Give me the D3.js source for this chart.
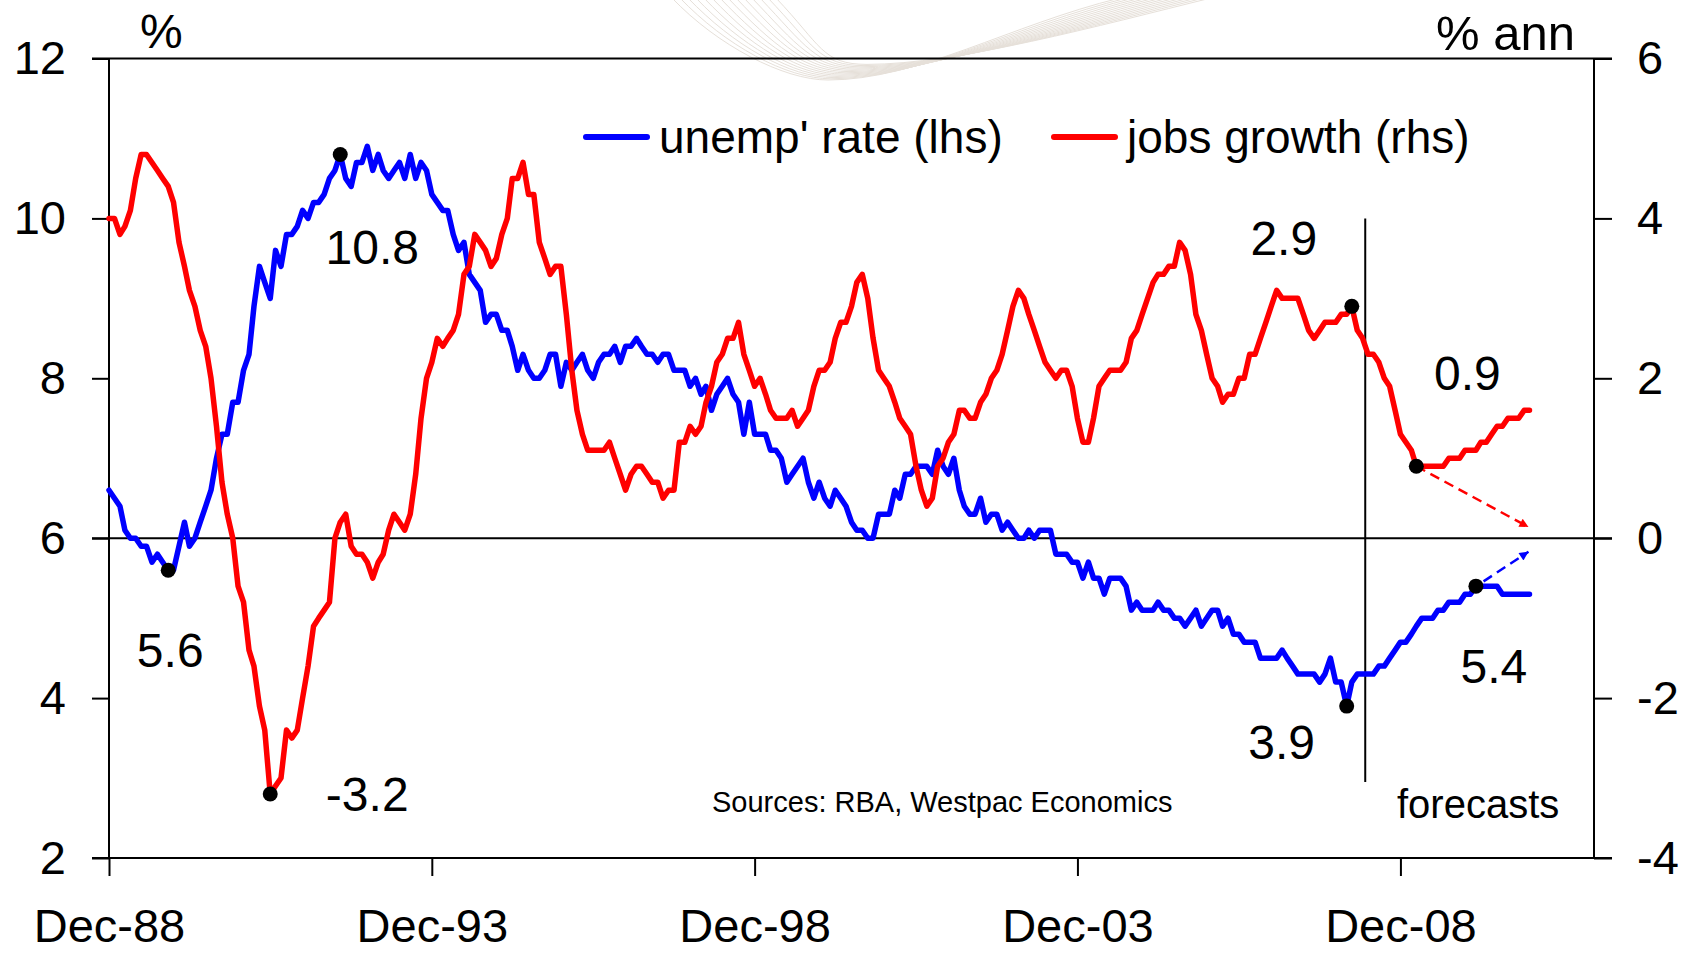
<!DOCTYPE html>
<html>
<head>
<meta charset="utf-8">
<script src="https://cdn.jsdelivr.net/npm/d3@7"></script>
<style>
  html, body { margin: 0; padding: 0; background: #fff; }
  svg { display: block; font-family: "Liberation Sans", Arial, sans-serif; }
</style>
</head>
<body>
<svg id="chart" width="1692" height="956"></svg>
<script>
// Monthly series, first value is Dec-88, one value per month through Dec-10
const startMonth = new Date(1988, 11, 1);

// Unemployment rate, % (left axis)
const unempRate = [
  6.6,
  6.5, 6.4, 6.1, 6.0, 6.0, 5.9, 5.9, 5.7, 5.8, 5.7, 5.6, 5.6,          // 1989
  5.9, 6.2, 5.9, 6.0, 6.2, 6.4, 6.6, 7.0, 7.3, 7.3, 7.7, 7.7,          // 1990
  8.1, 8.3, 8.9, 9.4, 9.2, 9.0, 9.6, 9.4, 9.8, 9.8, 9.9, 10.1,         // 1991
  10.0, 10.2, 10.2, 10.3, 10.5, 10.6, 10.8, 10.5, 10.4, 10.7, 10.7, 10.9, // 1992
  10.6, 10.8, 10.6, 10.5, 10.6, 10.7, 10.5, 10.8, 10.5, 10.7, 10.6, 10.3, // 1993
  10.2, 10.1, 10.1, 9.8, 9.6, 9.7, 9.3, 9.2, 9.1, 8.7, 8.8, 8.8,       // 1994
  8.6, 8.6, 8.4, 8.1, 8.3, 8.1, 8.0, 8.0, 8.1, 8.3, 8.3, 7.9,          // 1995
  8.2, 8.1, 8.2, 8.3, 8.1, 8.0, 8.2, 8.3, 8.3, 8.4, 8.2, 8.4,          // 1996
  8.4, 8.5, 8.4, 8.3, 8.3, 8.2, 8.3, 8.3, 8.1, 8.1, 8.1, 7.9,          // 1997
  8.0, 7.8, 7.9, 7.6, 7.8, 7.9, 8.0, 7.8, 7.7, 7.3, 7.7, 7.3,          // 1998
  7.3, 7.3, 7.1, 7.1, 7.0, 6.7, 6.8, 6.9, 7.0, 6.7, 6.5, 6.7,          // 1999
  6.5, 6.4, 6.6, 6.5, 6.4, 6.2, 6.1, 6.1, 6.0, 6.0, 6.3, 6.3,          // 2000
  6.3, 6.6, 6.5, 6.8, 6.8, 6.9, 6.9, 6.9, 6.8, 7.1, 6.9, 6.8,          // 2001
  7.0, 6.6, 6.4, 6.3, 6.3, 6.5, 6.2, 6.3, 6.3, 6.1, 6.2, 6.1,          // 2002
  6.0, 6.0, 6.1, 6.0, 6.1, 6.1, 6.1, 5.8, 5.8, 5.8, 5.7, 5.7,          // 2003
  5.5, 5.7, 5.5, 5.5, 5.3, 5.5, 5.5, 5.5, 5.4, 5.1, 5.2, 5.1,          // 2004
  5.1, 5.1, 5.2, 5.1, 5.1, 5.0, 5.0, 4.9, 5.0, 5.1, 4.9, 5.0,          // 2005
  5.1, 5.1, 4.9, 5.0, 4.8, 4.8, 4.7, 4.7, 4.7, 4.5, 4.5, 4.5,          // 2006
  4.5, 4.6, 4.5, 4.4, 4.3, 4.3, 4.3, 4.3, 4.2, 4.3, 4.5, 4.2,          // 2007
  4.2, 3.9, 4.2, 4.3, 4.3, 4.3, 4.3, 4.4, 4.4, 4.5, 4.6, 4.7,          // 2008
  4.7, 4.8, 4.9, 5.0, 5.0, 5.0, 5.1, 5.1, 5.2, 5.2, 5.2, 5.3,          // 2009
  5.3, 5.4, 5.4, 5.4, 5.4, 5.4, 5.3, 5.3, 5.3, 5.3, 5.3, 5.3           // 2010
];

// Employment growth, % annual (right axis)
const jobsGrowth = [
  4.0,
  4.0, 3.8, 3.9, 4.1, 4.5, 4.8, 4.8, 4.7, 4.6, 4.5, 4.4, 4.2,          // 1989
  3.7, 3.4, 3.1, 2.9, 2.6, 2.4, 2.0, 1.4, 0.7, 0.3, 0.0, -0.6,         // 1990
  -0.8, -1.4, -1.6, -2.1, -2.4, -3.2, -3.1, -3.0, -2.4, -2.5, -2.4, -2.0, // 1991
  -1.6, -1.1, -1.0, -0.9, -0.8, 0.0, 0.2, 0.3, -0.1, -0.2, -0.2, -0.3, // 1992
  -0.5, -0.3, -0.2, 0.1, 0.3, 0.2, 0.1, 0.3, 0.8, 1.5, 2.0, 2.2,       // 1993
  2.5, 2.4, 2.5, 2.6, 2.8, 3.3, 3.4, 3.8, 3.7, 3.6, 3.4, 3.5,          // 1994
  3.8, 4.0, 4.5, 4.5, 4.7, 4.3, 4.3, 3.7, 3.5, 3.3, 3.4, 3.4,          // 1995
  2.8, 2.1, 1.6, 1.3, 1.1, 1.1, 1.1, 1.1, 1.2, 1.0, 0.8, 0.6,          // 1996
  0.8, 0.9, 0.9, 0.8, 0.7, 0.7, 0.5, 0.6, 0.6, 1.2, 1.2, 1.4,          // 1997
  1.3, 1.4, 1.7, 1.9, 2.2, 2.3, 2.5, 2.5, 2.7, 2.3, 2.1, 1.9,          // 1998
  2.0, 1.8, 1.6, 1.5, 1.5, 1.5, 1.6, 1.4, 1.5, 1.6, 1.9, 2.1,          // 1999
  2.1, 2.2, 2.5, 2.7, 2.7, 2.9, 3.2, 3.3, 3.0, 2.5, 2.1, 2.0,          // 2000
  1.9, 1.7, 1.5, 1.4, 1.3, 0.9, 0.6, 0.4, 0.5, 0.9, 1.0, 1.2,          // 2001
  1.3, 1.6, 1.6, 1.5, 1.5, 1.7, 1.8, 2.0, 2.1, 2.3, 2.6, 2.9,          // 2002
  3.1, 3.0, 2.8, 2.6, 2.4, 2.2, 2.1, 2.0, 2.1, 2.1, 1.9, 1.5,          // 2003
  1.2, 1.2, 1.5, 1.9, 2.0, 2.1, 2.1, 2.1, 2.2, 2.5, 2.6, 2.8,          // 2004
  3.0, 3.2, 3.3, 3.3, 3.4, 3.4, 3.7, 3.6, 3.3, 2.8, 2.6, 2.3,          // 2005
  2.0, 1.9, 1.7, 1.8, 1.8, 2.0, 2.0, 2.3, 2.3, 2.5, 2.7, 2.9,          // 2006
  3.1, 3.0, 3.0, 3.0, 3.0, 2.8, 2.6, 2.5, 2.6, 2.7, 2.7, 2.7,          // 2007
  2.8, 2.8, 2.9, 2.6, 2.5, 2.3, 2.3, 2.2, 2.0, 1.9, 1.6, 1.3,          // 2008
  1.2, 1.1, 0.9, 0.9, 0.9, 0.9, 0.9, 0.9, 1.0, 1.0, 1.0, 1.1,          // 2009
  1.1, 1.1, 1.2, 1.2, 1.3, 1.4, 1.4, 1.5, 1.5, 1.5, 1.6, 1.6           // 2010
];

const seriesNames = ["unemp' rate (lhs)", "jobs growth (rhs)"];
const leftTicks = [2, 4, 6, 8, 10, 12];
const rightTicks = [-4, -2, 0, 2, 4, 6];
const xTickMonths = [0, 60, 120, 180, 240];           // Dec of 88, 93, 98, 03, 08
const xTickLabels = ["Dec-88", "Dec-93", "Dec-98", "Dec-03", "Dec-08"];

// Turning points that are marked and labelled (month index into the series)
const unempMarks = [11, 43, 230, 254];
const jobsMarks = [30, 231, 243];

// Forecast period and the dashed "direction" arrows
const forecastStart = new Date(2008, 4, 16);
const arrowEndMonth = 263.8;
const unempArrowEnd = 5.83;
const jobsArrowEnd = 0.14;

// ---------------------------------------------------------------------------
const svg = d3.select("#chart");
const plot = { left: 109, right: 1594, top: 58.5, bottom: 858 };
const monthDate = i => d3.timeMonth.offset(startMonth, Math.floor(i)).getTime() +
  (i % 1) * 30.4 * 864e5;

const x = d3.scaleTime()
  .domain([startMonth, d3.timeMonth.offset(startMonth, 276)])
  .range([plot.left, plot.right]);
const yL = d3.scaleLinear().domain([2, 12]).range([plot.bottom, plot.top]);
const yR = d3.scaleLinear().domain([-4, 6]).range([plot.bottom, plot.top]);

const BLUE = "#0000ff", RED = "#ff0000";

// faint decorative swoosh at the top
const swoosh = svg.append("g")
  .attr("fill", "none")
  .attr("stroke", "#e6e0d9")
  .attr("stroke-width", 1);
d3.range(14).forEach(i => {
  const x0 = 672 + i * 8, xb = 828 + i * 3, yb = 80 - i * 1.2, xr = 1120 + i * 7;
  const p = d3.path();
  p.moveTo(x0, -2);
  p.bezierCurveTo(x0 + 45, 45, xb - 45, yb, xb, yb);
  p.bezierCurveTo(xb + 90, yb, xr - 110, 25, xr, -2);
  swoosh.append("path").attr("d", p.toString());
});

// frame lines
const frame = svg.append("g").attr("stroke", "#000").attr("stroke-width", 2);
frame.append("line").attr("x1", 92).attr("x2", 1612).attr("y1", plot.top).attr("y2", plot.top);
frame.append("line").attr("x1", 92).attr("x2", 1612).attr("y1", plot.bottom).attr("y2", plot.bottom);
frame.append("line").attr("x1", 92).attr("x2", 1612).attr("y1", yR(0)).attr("y2", yR(0));
frame.append("line").attr("x1", plot.left).attr("x2", plot.left).attr("y1", plot.top).attr("y2", plot.bottom);
frame.append("line").attr("x1", plot.right).attr("x2", plot.right).attr("y1", plot.top).attr("y2", plot.bottom);

// axes
const styleAxis = (g, size) => {
  g.select(".domain").remove();
  g.selectAll(".tick line").attr("stroke", "#000").attr("stroke-width", 2);
  g.selectAll(".tick text").attr("fill", "#000")
    .style("font-family", "'Liberation Sans', Arial, sans-serif")
    .style("font-size", size + "px");
};

svg.append("g")
  .attr("transform", `translate(${plot.left},0)`)
  .call(d3.axisLeft(yL).tickValues(leftTicks).tickSize(17).tickPadding(26)
    .tickFormat(d => String(d)))
  .call(g => styleAxis(g, 47));

svg.append("g")
  .attr("transform", `translate(${plot.right},0)`)
  .call(d3.axisRight(yR).tickValues(rightTicks).tickSize(18).tickPadding(25)
    .tickFormat(d => String(d)))
  .call(g => styleAxis(g, 47));

svg.append("g")
  .attr("transform", `translate(0,${plot.bottom})`)
  .call(d3.axisBottom(x)
    .tickValues(xTickMonths.map(m => d3.timeMonth.offset(startMonth, m)))
    .tickSize(18).tickPadding(33)
    .tickFormat((d, i) => xTickLabels[i]))
  .call(g => styleAxis(g, 47));

// axis unit labels
svg.append("text").attr("x", 140).attr("y", 48)
  .style("font-size", "48px").text("%");
svg.append("text").attr("x", 1575).attr("y", 50).attr("text-anchor", "end")
  .style("font-size", "49px").text("% ann");

// forecast divider
svg.append("line")
  .attr("x1", x(forecastStart)).attr("x2", x(forecastStart))
  .attr("y1", yL(10)).attr("y2", yL(2.95))
  .attr("stroke", "#000").attr("stroke-width", 2);

// series lines
const lineL = d3.line().x((d, i) => x(monthDate(i))).y(d => yL(d));
const lineR = d3.line().x((d, i) => x(monthDate(i))).y(d => yR(d));

svg.append("path").datum(unempRate)
  .attr("d", lineL).attr("fill", "none").attr("stroke", BLUE)
  .attr("stroke-width", 5.5).attr("stroke-linejoin", "round").attr("stroke-linecap", "round");
svg.append("path").datum(jobsGrowth)
  .attr("d", lineR).attr("fill", "none").attr("stroke", RED)
  .attr("stroke-width", 5.5).attr("stroke-linejoin", "round").attr("stroke-linecap", "round");

// dashed direction arrows
const defs = svg.append("defs");
[["arrBlue", BLUE], ["arrRed", RED]].forEach(([id, c]) => {
  defs.append("marker").attr("id", id)
    .attr("viewBox", "0 0 10 10").attr("refX", 10).attr("refY", 5)
    .attr("markerUnits", "userSpaceOnUse")
    .attr("markerWidth", 11).attr("markerHeight", 9).attr("orient", "auto")
    .append("path").attr("d", "M0,0L10,5L0,10Z").attr("fill", c);
});
svg.append("line")
  .attr("x1", x(monthDate(jobsMarks[2]))).attr("y1", yR(jobsGrowth[jobsMarks[2]]))
  .attr("x2", x(monthDate(arrowEndMonth))).attr("y2", yR(jobsArrowEnd))
  .attr("stroke", RED).attr("stroke-width", 2.5).attr("stroke-dasharray", "10,6")
  .attr("marker-end", "url(#arrRed)");
svg.append("line")
  .attr("x1", x(monthDate(unempMarks[3] + 1.5))).attr("y1", yL(unempRate[unempMarks[3]] + 0.06))
  .attr("x2", x(monthDate(arrowEndMonth))).attr("y2", yL(unempArrowEnd))
  .attr("stroke", BLUE).attr("stroke-width", 2.5).attr("stroke-dasharray", "10,6")
  .attr("marker-end", "url(#arrBlue)");

// marked points with value labels
const fmt = d3.format(".1f");
const labelOffsets = {
  u11: [2, 80], u43: [32, 92], u230: [-65, 36], u254: [18, 80],
  j30: [97, 0], j231: [-68, -69], j243: [51, -94]
};
const marks = [
  ...unempMarks.map(m => ({ key: "u" + m, m, v: unempRate[m], y: yL })),
  ...jobsMarks.map(m => ({ key: "j" + m, m, v: jobsGrowth[m], y: yR }))
];
marks.forEach(d => {
  const cx = x(monthDate(d.m)), cy = d.y(d.v);
  svg.append("circle").attr("cx", cx).attr("cy", cy).attr("r", 7.5).attr("fill", "#000");
  const [dx, dy] = labelOffsets[d.key];
  svg.append("text")
    .attr("x", cx + dx).attr("y", cy + dy).attr("dy", "0.36em")
    .attr("text-anchor", "middle").style("font-size", "48px")
    .text(fmt(d.v).replace("\u2212", "-"));
});

// legend
const legend = [
  { name: seriesNames[0], color: BLUE, x: 586 },
  { name: seriesNames[1], color: RED, x: 1054 }
];
legend.forEach(l => {
  svg.append("line").attr("x1", l.x).attr("x2", l.x + 61).attr("y1", 137).attr("y2", 137)
    .attr("stroke", l.color).attr("stroke-width", 6).attr("stroke-linecap", "round");
  svg.append("text").attr("x", l.x + 73).attr("y", 137).attr("dy", "0.35em")
    .style("font-size", "46px").text(l.name);
});

// notes
svg.append("text").attr("x", 712).attr("y", 812)
  .style("font-size", "29px").text("Sources: RBA, Westpac Economics");
svg.append("text").attr("x", 1397).attr("y", 818)
  .style("font-size", "40px").text("forecasts");
</script>
</body>
</html>
